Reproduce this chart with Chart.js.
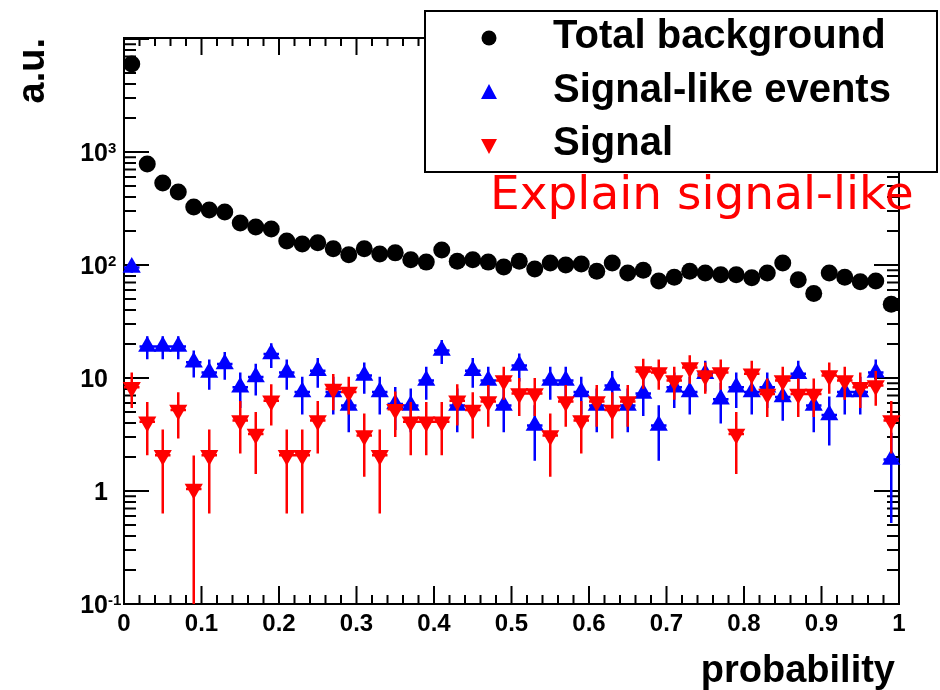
<!DOCTYPE html>
<html>
<head>
<meta charset="utf-8">
<script src="https://cdn.jsdelivr.net/npm/chart.js@4/dist/chart.umd.min.js"></script>
<style>
  html, body { margin: 0; padding: 0; background: #fff; }
  canvas { display: block; }
</style>
</head>
<body>
<canvas id="probChart" width="940" height="690"></canvas>
<script>
// bin centres of the probability histogram (50 bins of 0.02)
const binCenters = [0.01, 0.03, 0.05, 0.07, 0.09, 0.11, 0.13, 0.15, 0.17, 0.19,
                    0.21, 0.23, 0.25, 0.27, 0.29, 0.31, 0.33, 0.35, 0.37, 0.39,
                    0.41, 0.43, 0.45, 0.47, 0.49, 0.51, 0.53, 0.55, 0.57, 0.59,
                    0.61, 0.63, 0.65, 0.67, 0.69, 0.71, 0.73, 0.75, 0.77, 0.79,
                    0.81, 0.83, 0.85, 0.87, 0.89, 0.91, 0.93, 0.95, 0.97, 0.99];
const binHalfWidth = 0.01;

const totalBackground = [6010, 783, 532, 443, 326, 307, 295, 235, 217, 208,
                         163, 153, 157, 139, 123, 139, 125, 128, 111, 106,
                         136, 108, 111, 106, 96, 108, 92, 104, 100, 102,
                         88, 104, 85, 90, 72, 78, 88, 85, 82, 82,
                         77, 85, 104, 74, 56, 85, 78, 71, 72, 45];

const signalLike = [95, 19, 19, 19, 13.8, 11.2, 13.3, 8.3, 10.2, 16.3,
                    11.2, 7.5, 11.6, 7.5, 5.7, 10.5, 7.5, 5.9, 5.7, 9.5,
                    17.5, 5.7, 11.6, 9.5, 5.7, 12.9, 3.8, 9.5, 9.5, 7.5,
                    5.7, 8.6, 5.7, 7.3, 3.8, 8.3, 7.5, 10.9, 6.5, 8.3,
                    7.5, 8.3, 6.8, 10.9, 5.7, 4.7, 7.5, 7.5, 11.2, 1.9];

const signal = [8.3, 4.1, 2.07, 5.2, 1.04, 2.07, null, 4.2, 3.2, 6.3,
                2.07, 2.07, 4.2, 8.0, 7.5, 3.1, 2.07, 5.3, 4.1, 4.1,
                4.1, 6.3, 5.2, 6.2, 9.5, 7.3, 7.3, 3.1, 6.2, 4.2,
                6.2, 5.2, 6.2, 11.4, 11.2, 9.5, 12.4, 10.5, 11.2, 3.2,
                10.9, 7.2, 9.5, 7.2, 7.2, 10.5, 9.5, 8.3, 8.6, 4.2];

const xTickLabels = ['0', '0.1', '0.2', '0.3', '0.4', '0.5', '0.6', '0.7', '0.8', '0.9', '1'];
const xTickValues = [0, 0.1, 0.2, 0.3, 0.4, 0.5, 0.6, 0.7, 0.8, 0.9, 1];
// y labels: base text + superscript
const yTickValues = [0.1, 1, 10, 100, 1000];
const yTickBase = ['10', '1', '10', '10', '10'];
const yTickSup = ['-1', '', '', '2', '3'];

const legendLabels = ['Total background', 'Signal-like events', 'Signal'];

const BOLD = '"Liberation Sans", Arial, Helvetica, sans-serif';

function toPoints(values) {
    return values.map((v, i) => ({ x: binCenters[i], y: v }));
}

// frame, inward ticks, labels, legend, and Poisson error bars
const rootStyle = {
    id: 'rootStyle',
    beforeDatasetsDraw(chart) {
        const ctx = chart.ctx;
        const a = chart.chartArea;
        const xs = chart.scales.x, ys = chart.scales.y;
        ctx.save();
        ctx.strokeStyle = '#000';
        ctx.lineWidth = 2;
        ctx.strokeRect(a.left, a.top, a.right - a.left, a.bottom - a.top);

        ctx.beginPath();
        // x ticks, bottom and top
        for (let k = 0; k <= 50; k++) {
            const v = k * 0.02;
            const px = xs.getPixelForValue(v);
            const major = k % 5 === 0;
            ctx.moveTo(px, a.bottom); ctx.lineTo(px, a.bottom - (major ? 18 : 9));
            ctx.moveTo(px, a.top); ctx.lineTo(px, a.top + (major ? 17 : 8));
        }
        // y ticks (log), left and right
        for (let e = -1; e <= 4; e++) {
            for (let m = 1; m <= 9; m++) {
                const v = m * Math.pow(10, e);
                if (v < ys.min || v > ys.max) continue;
                const py = ys.getPixelForValue(v);
                const len = m === 1 ? 25 : 12;
                ctx.moveTo(a.left, py); ctx.lineTo(a.left + len, py);
                ctx.moveTo(a.right, py); ctx.lineTo(a.right - len, py);
            }
        }
        ctx.stroke();

        // tick labels
        ctx.fillStyle = '#000';
        ctx.font = 'bold 24px ' + BOLD;
        ctx.textAlign = 'center';
        ctx.textBaseline = 'alphabetic';
        xTickValues.forEach((v, i) => {
            ctx.fillText(xTickLabels[i], xs.getPixelForValue(v), 631);
        });
        yTickValues.forEach((v, i) => {
            const py = ys.getPixelForValue(v);
            ctx.font = 'bold 25px ' + BOLD;
            ctx.textAlign = 'right';
            ctx.fillText(yTickBase[i], 108, py + 9);
            if (yTickSup[i]) {
                ctx.font = 'bold 15px ' + BOLD;
                ctx.textAlign = 'left';
                ctx.fillText(yTickSup[i], 108, py + 1);
            }
        });

        // axis titles
        ctx.font = 'bold 38px ' + BOLD;
        ctx.textAlign = 'right';
        ctx.fillText('probability', 895, 682);
        ctx.save();
        ctx.translate(44, 38);
        ctx.rotate(-Math.PI / 2);
        ctx.textAlign = 'right';
        ctx.fillText('a.u.', 0, 0);
        ctx.restore();
        ctx.restore();
    },
    beforeDatasetDraw(chart, args) {
        const ds = chart.data.datasets[args.index];
        if (!ds.errorBars) return;
        const ctx = chart.ctx;
        const a = chart.chartArea;
        const xs = chart.scales.x, ys = chart.scales.y;
        ctx.save();
        ctx.beginPath();
        ctx.rect(a.left, a.top, a.right - a.left, a.bottom - a.top);
        ctx.clip();
        ctx.strokeStyle = ds.pointBackgroundColor;
        ctx.lineWidth = 2.5;
        ctx.beginPath();
        ds.data.forEach(p => {
            if (p.y == null) return;
            const err = Math.sqrt(p.y);
            const px = xs.getPixelForValue(p.x);
            const py = ys.getPixelForValue(p.y);
            const lo = p.y - err > ys.min ? ys.getPixelForValue(p.y - err) : a.bottom;
            const hi = ys.getPixelForValue(p.y + err);
            ctx.moveTo(px, lo); ctx.lineTo(px, hi);
            ctx.moveTo(xs.getPixelForValue(p.x - binHalfWidth), py);
            ctx.lineTo(xs.getPixelForValue(p.x + binHalfWidth), py);
        });
        ctx.stroke();
        ctx.restore();
    },
    afterDraw(chart) {
        const ctx = chart.ctx;
        ctx.save();
        // legend box
        ctx.fillStyle = '#fff';
        ctx.fillRect(425, 11, 512, 161);
        ctx.strokeStyle = '#000';
        ctx.lineWidth = 2;
        ctx.strokeRect(425, 11, 512, 161);

        const rows = [38, 93, 145];
        const baselines = [48, 102, 155];
        // markers
        ctx.fillStyle = '#000';
        ctx.beginPath();
        ctx.arc(489, rows[0], 7.5, 0, Math.PI * 2);
        ctx.fill();
        ctx.fillStyle = '#0000ff';
        ctx.beginPath();
        ctx.moveTo(489, rows[1] - 9); ctx.lineTo(497, rows[1] + 6); ctx.lineTo(481, rows[1] + 6);
        ctx.closePath(); ctx.fill();
        ctx.fillStyle = '#ff0000';
        ctx.beginPath();
        ctx.moveTo(489, rows[2] + 9); ctx.lineTo(497, rows[2] - 6); ctx.lineTo(481, rows[2] - 6);
        ctx.closePath(); ctx.fill();

        ctx.fillStyle = '#000';
        ctx.font = 'bold 40px ' + BOLD;
        ctx.textAlign = 'left';
        ctx.textBaseline = 'alphabetic';
        legendLabels.forEach((t, i) => ctx.fillText(t, 553, baselines[i]));

        // annotation
        ctx.fillStyle = '#ff0000';
        ctx.font = '47px "DejaVu Sans", sans-serif';
        ctx.fillText('Explain signal-like', 490, 209);
        ctx.restore();
    }
};

new Chart(document.getElementById('probChart').getContext('2d'), {
    type: 'scatter',
    data: {
        datasets: [
            {
                label: legendLabels[0],
                data: toPoints(totalBackground),
                pointStyle: 'circle',
                pointRadius: 8.5,
                pointBackgroundColor: '#000000',
                pointBorderWidth: 0,
                order: 2,
                clip: false
            },
            {
                label: legendLabels[1],
                data: toPoints(signalLike),
                pointStyle: 'triangle',
                pointRadius: 10.5,
                pointBackgroundColor: '#0000ff',
                pointBorderWidth: 0,
                errorBars: true,
                order: 1,
                clip: false
            },
            {
                label: legendLabels[2],
                data: toPoints(signal),
                pointStyle: 'triangle',
                rotation: 180,
                pointRadius: 10.5,
                pointBackgroundColor: '#ff0000',
                pointBorderWidth: 0,
                errorBars: true,
                order: 0,
                clip: false
            }
        ]
    },
    options: {
        responsive: false,
        animation: false,
        devicePixelRatio: 1,
        layout: { padding: { left: 124, right: 41, top: 38, bottom: 86 } },
        scales: {
            x: { type: 'linear', min: 0, max: 1, display: false },
            y: { type: 'logarithmic', min: 0.1, max: 10200, display: false }
        },
        plugins: {
            legend: { display: false },
            tooltip: { enabled: false }
        }
    },
    plugins: [rootStyle]
});
</script>
</body>
</html>
